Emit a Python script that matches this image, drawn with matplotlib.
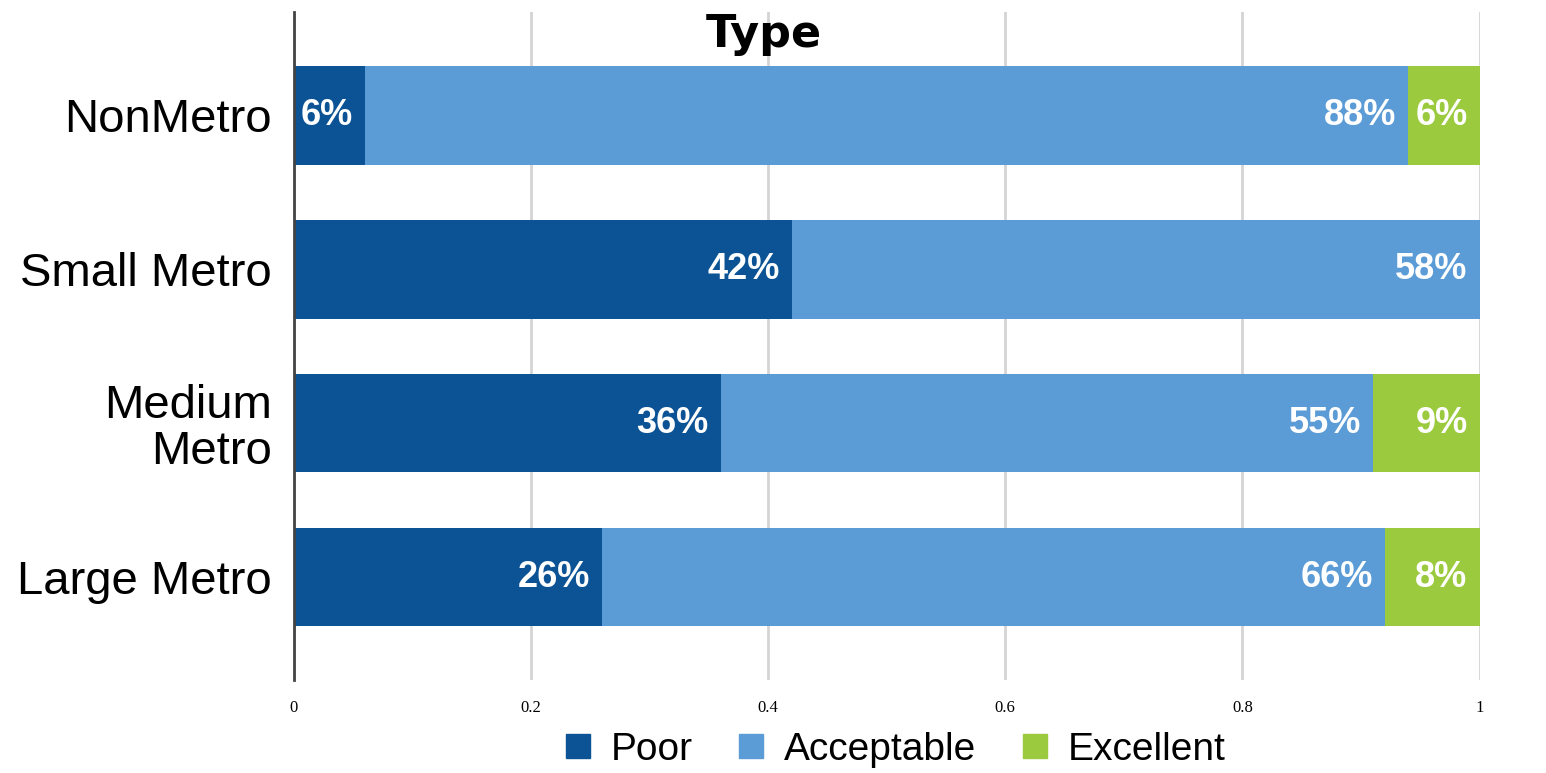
import numpy as np
import matplotlib.pyplot as plt
from matplotlib.lines import Line2D

# ----------------------------
# Data
# ----------------------------
categories = ["Large Metro", "Medium\nMetro", "Small Metro", "NonMetro"]
poor = [0.26, 0.36, 0.42, 0.06]
acceptable = [0.66, 0.55, 0.58, 0.88]
excellent = [0.08, 0.09, 0.00, 0.06]
series_names = ["Poor", "Acceptable", "Excellent"]
x_ticks = [0, 0.2, 0.4, 0.6, 0.8, 1]
x_tick_labels = ["0", "0.2", "0.4", "0.6", "0.8", "1"]

COLORS = ["#0b5394", "#5b9bd6", "#9bca3f"]


def main():
    fig = plt.figure(figsize=(15.46, 7.73), dpi=100)
    fig.patch.set_facecolor("white")
    ax = fig.add_axes([0.190, 0.120, 0.767, 0.864])

    y = np.arange(len(categories))
    series = [poor, acceptable, excellent]
    left = np.zeros(len(categories))
    for vals, color, name in zip(series, COLORS, series_names):
        vals = np.array(vals)
        ax.barh(y, vals, left=left, height=0.64, color=color, label=name, zorder=2)
        for yi, (l, v) in enumerate(zip(left, vals)):
            # empty segments get their (white) label pushed past the bar end
            if v > 0:
                offset, ha = -12, "right"
            else:
                offset, ha = 38, "left"
            ax.annotate(f"{round(v * 100)}%", xy=(l + v, yi), xytext=(offset, 0),
                        textcoords="offset pixels", ha=ha, va="center",
                        color="white", fontsize=26, fontweight="bold",
                        family="Liberation Sans", zorder=3, annotation_clip=False)
        left = left + vals

    ax.set_xlim(0, 1)
    ax.set_ylim(-0.67, 3.67)
    ax.set_yticks(y)
    ax.set_yticklabels(categories, fontsize=34, family="Liberation Sans",
                       linespacing=1.05)
    ax.set_xticks(x_ticks)
    ax.set_xticklabels(x_tick_labels, fontsize=12, family="Liberation Serif")
    ax.tick_params(axis="x", length=0, pad=14)
    ax.tick_params(axis="y", length=0, pad=16)

    ax.grid(axis="x", color="#d4d4d4", linewidth=2, zorder=0)
    for s in ["top", "right", "bottom"]:
        ax.spines[s].set_visible(False)
    ax.spines["left"].set_color("#444444")
    ax.spines["left"].set_linewidth(2)
    ax.spines["left"].set_zorder(4)

    fig.text(0.494, 0.955, "Type", ha="center", va="center",
             fontsize=32, fontweight="bold", family="DejaVu Sans")

    handles = [Line2D([], [], marker="s", linestyle="none", markersize=17,
                      markerfacecolor=c, markeredgecolor=c) for c in COLORS]
    fig.legend(handles, series_names, loc="center", bbox_to_anchor=(0.577, 0.03),
               ncol=3, frameon=False, prop={"family": "Liberation Sans", "size": 28},
               handletextpad=0.35, columnspacing=1.0, handlelength=1.0)

    plt.savefig("out.png", dpi=100)
    plt.close()


if __name__ == "__main__":
    main()
